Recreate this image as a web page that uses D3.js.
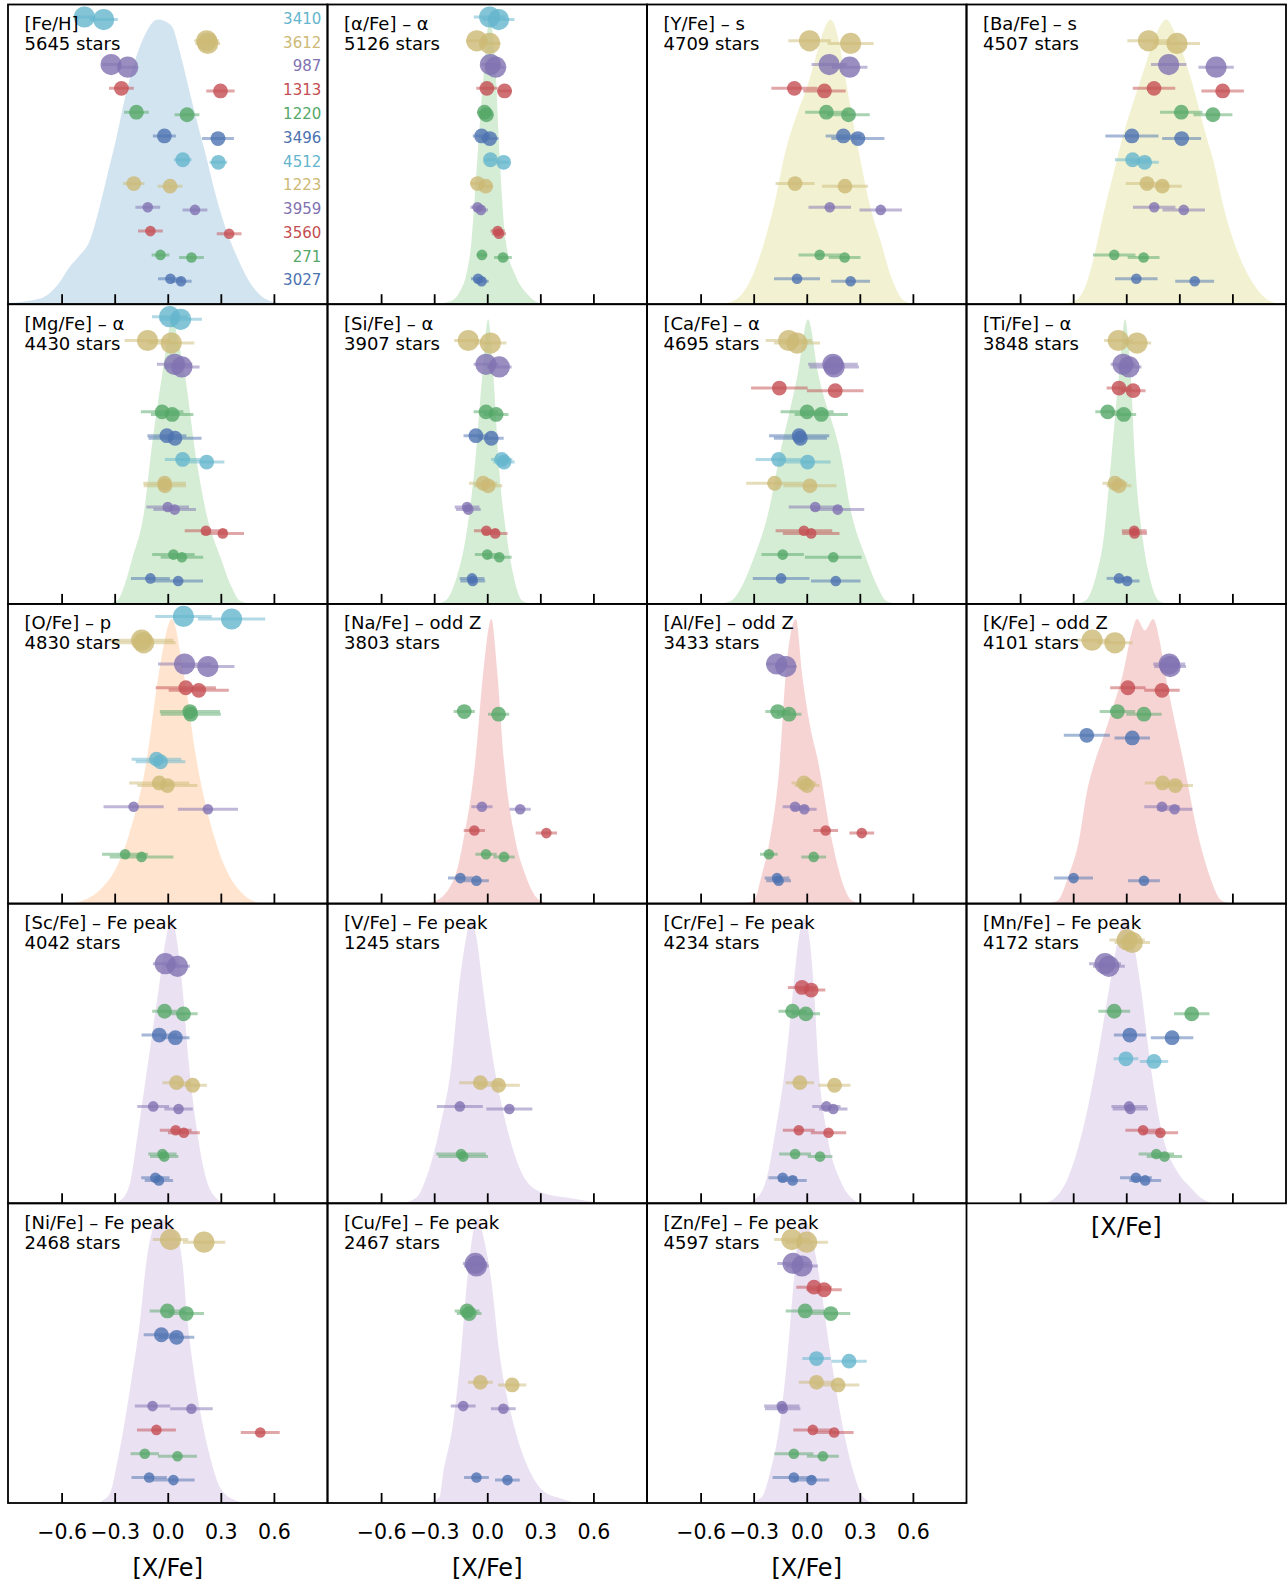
<!DOCTYPE html>
<html>
<head>
<meta charset="utf-8">
<script src="https://cdn.jsdelivr.net/npm/d3@7"></script>
<style>
  html, body { margin: 0; padding: 0; background: #fff; overflow: hidden; }
  svg { display: block; }
  text { font-family: "DejaVu Sans", sans-serif; }
</style>
</head>
<body>
<div id="chart"></div>
<script>
// cluster rows, top to bottom
var clusters = ["3410", "3612", "987", "1313", "1220", "3496", "4512", "1223", "3959", "3560", "271", "3027"];
var clusterColors = ["#64B5CD", "#CCB974", "#8172B2", "#C44E52", "#55A868", "#4C72B0",
                     "#64B5CD", "#CCB974", "#8172B2", "#C44E52", "#55A868", "#4C72B0"];

var titles = ["[Fe/H]", "[α/Fe] – α", "[Y/Fe] – s", "[Ba/Fe] – s",
              "[Mg/Fe] – α", "[Si/Fe] – α", "[Ca/Fe] – α", "[Ti/Fe] – α",
              "[O/Fe] – p", "[Na/Fe] – odd Z", "[Al/Fe] – odd Z", "[K/Fe] – odd Z",
              "[Sc/Fe] – Fe peak", "[V/Fe] – Fe peak", "[Cr/Fe] – Fe peak", "[Mn/Fe] – Fe peak",
              "[Ni/Fe] – Fe peak", "[Cu/Fe] – Fe peak", "[Zn/Fe] – Fe peak"];
var starCounts = [5645, 5126, 4709, 4507, 4430, 3907, 4695, 3848, 4830, 3803, 3433, 4101,
                  4042, 1245, 4234, 4172, 2468, 2467, 4597];
var groupFill = ["#1f77b4", "#2ca02c", "#bcbd22", "#bcbd22", "#2ca02c", "#2ca02c", "#2ca02c", "#2ca02c",
                 "#ff7f0e", "#d62728", "#d62728", "#d62728", "#9467bd", "#9467bd", "#9467bd", "#9467bd",
                 "#9467bd", "#9467bd", "#9467bd"];
var tickValues = [-0.6, -0.3, 0.0, 0.3, 0.6];

// sample density, [x, relative height] (peak = 1)
var densFeH = [[-0.91,0.004],[-0.72,0.02],[-0.62,0.07],[-0.556,0.13],[-0.5,0.17],[-0.443,0.22],[-0.386,0.34],[-0.339,0.46],[-0.292,0.58],[-0.254,0.69],[-0.207,0.81],[-0.141,0.93],[-0.057,1],[0.019,0.98],[0.075,0.87],[0.122,0.75],[0.17,0.63],[0.217,0.52],[0.264,0.4],[0.32,0.28],[0.396,0.16],[0.471,0.07],[0.584,0.01],[0.7,0]];
var densAlpha = [[-0.3,0],[-0.21,0.01],[-0.15,0.05],[-0.12,0.1],[-0.089,0.22],[-0.055,0.52],[-0.02,0.81],[0.014,1],[0.048,0.81],[0.07,0.52],[0.105,0.22],[0.16,0.1],[0.22,0.04],[0.29,0.005],[0.35,0]];
var densY = [[-0.5,0],[-0.42,0.01],[-0.35,0.05],[-0.3,0.11],[-0.23,0.24],[-0.173,0.38],[-0.127,0.52],[-0.06,0.66],[0,0.76],[0.043,0.85],[0.089,0.95],[0.134,1],[0.18,0.93],[0.214,0.81],[0.248,0.69],[0.305,0.5],[0.36,0.34],[0.418,0.22],[0.475,0.1],[0.555,0.01],[0.62,0]];
var densBa = [[-0.38,0],[-0.3,0.01],[-0.24,0.05],[-0.185,0.16],[-0.128,0.32],[-0.072,0.46],[-0.015,0.6],[0.04,0.71],[0.098,0.82],[0.17,0.95],[0.226,1],[0.29,0.93],[0.362,0.8],[0.457,0.58],[0.494,0.5],[0.551,0.34],[0.645,0.16],[0.72,0.07],[0.815,0.01],[0.88,0]];
var densMg = [[-0.36,0],[-0.29,0.01],[-0.2,0.16],[-0.13,0.34],[-0.1,0.5],[-0.03,0.81],[0.027,1],[0.06,0.92],[0.095,0.81],[0.164,0.5],[0.21,0.34],[0.3,0.16],[0.36,0.06],[0.41,0.01],[0.48,0]];
var densSi = [[-0.3,0],[-0.24,0.01],[-0.17,0.1],[-0.125,0.22],[-0.068,0.5],[-0.027,0.81],[0.005,1],[0.034,0.81],[0.064,0.5],[0.114,0.22],[0.148,0.1],[0.2,0.01],[0.26,0]];
var densCa = [[-0.5,0],[-0.43,0.01],[-0.36,0.07],[-0.3,0.16],[-0.21,0.34],[-0.16,0.5],[-0.05,0.81],[0.007,1],[0.064,0.81],[0.2,0.5],[0.245,0.34],[0.336,0.16],[0.4,0.06],[0.45,0.01],[0.52,0]];
var densTi = [[-0.3,0],[-0.234,0.01],[-0.17,0.1],[-0.13,0.22],[-0.086,0.5],[-0.04,0.81],[-0.007,1],[0.025,0.81],[0.05,0.5],[0.095,0.22],[0.13,0.1],[0.186,0.01],[0.24,0]];
var densO = [[-0.55,0],[-0.48,0.01],[-0.38,0.05],[-0.28,0.14],[-0.22,0.24],[-0.12,0.5],[-0.05,0.81],[0.023,1],[0.09,0.81],[0.164,0.5],[0.27,0.22],[0.33,0.12],[0.4,0.05],[0.5,0.005],[0.55,0]];
var densNa = [[-0.36,0],[-0.29,0.01],[-0.18,0.1],[-0.136,0.22],[-0.068,0.5],[-0.023,0.81],[0.023,1],[0.057,0.81],[0.095,0.5],[0.16,0.22],[0.216,0.1],[0.3,0.01],[0.36,0]];
var densAl = [[-0.38,0],[-0.3,0.01],[-0.255,0.1],[-0.21,0.22],[-0.152,0.5],[-0.118,0.81],[-0.061,1],[-0.027,0.81],[0.02,0.62],[0.064,0.5],[0.143,0.22],[0.189,0.1],[0.257,0.01],[0.32,0]];
var densK = [[-0.46,0],[-0.39,0.01],[-0.325,0.1],[-0.268,0.22],[-0.223,0.39],[-0.177,0.5],[-0.132,0.58],[-0.075,0.69],[-0.018,0.81],[0.03,0.95],[0.061,1],[0.105,0.96],[0.152,1],[0.19,0.92],[0.22,0.81],[0.323,0.5],[0.414,0.22],[0.47,0.1],[0.54,0.01],[0.6,0]];
var densSc = [[-0.3,0],[-0.25,0.02],[-0.21,0.08],[-0.166,0.26],[-0.11,0.5],[-0.052,0.75],[-0.01,0.93],[0.023,1],[0.05,0.93],[0.084,0.75],[0.118,0.5],[0.164,0.26],[0.22,0.08],[0.27,0.02],[0.32,0]];
var densV = [[-0.48,0],[-0.4,0.02],[-0.35,0.08],[-0.27,0.26],[-0.2,0.5],[-0.161,0.75],[-0.12,0.93],[-0.091,1],[-0.06,0.93],[-0.023,0.75],[0.034,0.5],[0.114,0.26],[0.2,0.1],[0.3,0.04],[0.45,0.02],[0.6,0.005],[0.66,0]];
var densCr = [[-0.34,0],[-0.28,0.02],[-0.23,0.08],[-0.175,0.26],[-0.118,0.5],[-0.077,0.75],[-0.045,0.93],[-0.016,1],[0.015,0.93],[0.041,0.75],[0.064,0.5],[0.11,0.26],[0.19,0.08],[0.25,0.02],[0.31,0]];
var densMn = [[-0.46,0],[-0.4,0.02],[-0.336,0.08],[-0.245,0.26],[-0.166,0.5],[-0.098,0.75],[-0.045,0.93],[-0.007,1],[0.035,0.93],[0.084,0.75],[0.134,0.5],[0.198,0.26],[0.3,0.1],[0.357,0.06],[0.42,0.02],[0.48,0]];
var densNi = [[-0.4,0],[-0.33,0.03],[-0.28,0.16],[-0.211,0.41],[-0.155,0.65],[-0.12,0.85],[-0.05,1],[0.03,0.97],[0.08,0.86],[0.11,0.65],[0.16,0.41],[0.24,0.16],[0.3,0.05],[0.38,0.01],[0.44,0]];
var densCu = [[-0.34,0],[-0.27,0.02],[-0.25,0.1],[-0.193,0.28],[-0.148,0.53],[-0.114,0.78],[-0.08,0.95],[-0.057,1],[-0.02,0.93],[0.023,0.78],[0.068,0.53],[0.148,0.28],[0.25,0.1],[0.32,0.04],[0.42,0.015],[0.5,0]];
var densZn = [[-0.33,0],[-0.255,0.02],[-0.21,0.1],[-0.152,0.28],[-0.107,0.53],[-0.073,0.78],[-0.045,0.95],[-0.016,1],[0.03,0.93],[0.075,0.78],[0.132,0.53],[0.2,0.28],[0.268,0.1],[0.32,0.02],[0.38,0]];

// per cluster row: [star 1, error 1, star 2, error 2], null = no measurement
var ptsFeH = [[-0.471,0.06,-0.362,0.08],[0.22,0.07,0.226,0.07],[-0.32,0.05,-0.226,0.05],[-0.262,0.07,0.298,0.08],[-0.177,0.07,0.109,0.07],[-0.019,0.065,0.284,0.09],[0.085,0.05,0.286,0.05],[-0.192,0.06,0.013,0.07],[-0.113,0.07,0.154,0.07],[-0.098,0.07,0.347,0.07],[-0.041,0.05,0.134,0.07],[0.015,0.07,0.075,0.06]];
var ptsAlpha = [[0.014,0.09,0.064,0.09],[-0.059,0.06,0.014,0.06],[0.018,0.05,0.048,0.05],[-0.002,0.06,0.098,0.04],[-0.016,0.04,-0.005,0.04],[-0.032,0.05,0.014,0.05],[0.018,0.03,0.093,0.03],[-0.055,0.04,-0.009,0.04],[-0.055,0.04,-0.036,0.04],[0.059,0.04,0.066,0.04],[-0.03,0.03,0.089,0.05],[-0.052,0.04,-0.032,0.04]];
var ptsY = [null,[0.016,0.12,0.248,0.13],[0.127,0.1,0.243,0.1],[-0.07,0.13,0.1,0.12],[0.111,0.12,0.236,0.12],[0.207,0.1,0.289,0.15],null,[-0.066,0.11,0.216,0.13],[0.13,0.12,0.418,0.12],null,[0.073,0.12,0.214,0.09],[-0.055,0.13,0.248,0.11]];
var ptsBa = [null,[0.126,0.12,0.287,0.13],[0.24,0.1,0.508,0.1],[0.157,0.12,0.545,0.12],[0.311,0.12,0.49,0.11],[0.032,0.15,0.313,0.11],[0.036,0.1,0.104,0.08],[0.117,0.12,0.204,0.11],[0.158,0.12,0.325,0.12],null,[-0.068,0.12,0.098,0.09],[0.057,0.12,0.387,0.11]];
var ptsMg = [[0.011,0.1,0.073,0.12],[-0.114,0.13,0.02,0.13],[0.039,0.1,0.08,0.1],null,[-0.032,0.12,0.025,0.12],[-0.005,0.11,0.041,0.15],[0.084,0.1,0.22,0.1],[-0.018,0.12,-0.016,0.12],[0,0.12,0.039,0.12],[0.216,0.12,0.311,0.12],[0.032,0.12,0.08,0.12],[-0.098,0.11,0.059,0.14]];
var ptsSi = [null,[-0.107,0.08,0.018,0.09],[-0.007,0.07,0.068,0.07],null,[-0.007,0.07,0.05,0.07],[-0.064,0.07,0.023,0.07],[0.082,0.06,0.095,0.06],[-0.023,0.08,0.005,0.08],[-0.114,0.07,-0.107,0.07],[-0.005,0.07,0.045,0.07],[0,0.07,0.068,0.07],[-0.086,0.07,-0.082,0.07]];
var ptsCa = [null,[-0.102,0.13,-0.055,0.13],[0.148,0.14,0.155,0.14],[-0.155,0.16,0.161,0.16],[0.002,0.15,0.082,0.15],[-0.043,0.17,-0.036,0.15],[-0.159,0.13,0.005,0.13],[-0.182,0.16,0.018,0.15],[0.048,0.15,0.175,0.15],[-0.016,0.16,0.025,0.16],[-0.136,0.12,0.15,0.16],[-0.145,0.16,0.164,0.14]];
var ptsTi = [null,[-0.045,0.08,0.061,0.08],[-0.018,0.07,0.016,0.07],[-0.041,0.07,0.039,0.07],[-0.105,0.07,-0.014,0.07],null,null,[-0.064,0.07,-0.041,0.07],null,[0.045,0.07,0.047,0.07],null,[-0.041,0.07,0.005,0.07]];
var ptsO = [[0.089,0.16,0.361,0.19],[-0.148,0.18,-0.136,0.18],[0.095,0.15,0.227,0.15],[0.102,0.17,0.175,0.17],[0.125,0.17,0.13,0.17],null,[-0.064,0.14,-0.041,0.14],[-0.048,0.17,-0.002,0.17],[-0.193,0.17,0.227,0.17],null,[-0.241,0.13,-0.148,0.18],null];
var ptsNa = [null,null,null,null,[-0.13,0.06,0.064,0.06],null,null,null,[-0.03,0.06,0.186,0.06],[-0.073,0.06,0.334,0.06],[-0.007,0.06,0.095,0.06],[-0.152,0.07,-0.061,0.07]];
var ptsAl = [null,null,[-0.17,0.06,-0.118,0.06],null,[-0.164,0.07,-0.1,0.07],null,null,[-0.016,0.07,0.002,0.07],[-0.066,0.07,-0.014,0.07],[0.107,0.07,0.311,0.07],[-0.214,0.05,0.039,0.07],[-0.168,0.07,-0.159,0.07]];
var ptsK = [null,[-0.193,0.1,-0.064,0.1],[0.243,0.09,0.248,0.09],[0.009,0.1,0.202,0.1],[-0.05,0.1,0.1,0.1],[-0.223,0.13,0.034,0.1],null,[0.205,0.1,0.277,0.1],[0.202,0.1,0.273,0.1],null,null,[-0.298,0.11,0.1,0.09]];
var ptsSc = [null,null,[-0.014,0.07,0.055,0.07],null,[-0.018,0.07,0.089,0.08],[-0.048,0.1,0.043,0.08],null,[0.05,0.08,0.141,0.08],[-0.082,0.09,0.061,0.08],[0.045,0.09,0.091,0.09],[-0.03,0.08,-0.02,0.08],[-0.07,0.08,-0.05,0.08]];
var ptsV = [null,null,null,null,null,null,null,[-0.039,0.12,0.064,0.12],[-0.155,0.13,0.125,0.13],null,[-0.148,0.14,-0.136,0.14],null];
var ptsCr = [null,null,null,[-0.027,0.08,0.025,0.08],[-0.08,0.08,-0.005,0.08],null,null,[-0.039,0.08,0.157,0.09],[0.111,0.08,0.15,0.08],[-0.045,0.09,0.123,0.1],[-0.066,0.09,0.075,0.07],[-0.136,0.08,-0.08,0.08]];
var ptsMn = [null,[0.005,0.1,0.034,0.1],[-0.12,0.09,-0.098,0.09],null,[-0.068,0.09,0.37,0.1],[0.02,0.09,0.259,0.12],[-0.002,0.07,0.157,0.08],null,[0.016,0.1,0.023,0.1],[0.095,0.1,0.193,0.1],[0.17,0.1,0.216,0.1],[0.055,0.09,0.107,0.09]];
var ptsNi = [null,[0.016,0.1,0.205,0.12],null,null,[-0.002,0.1,0.105,0.1],[-0.036,0.1,0.05,0.1],null,null,[-0.086,0.1,0.134,0.12],[-0.064,0.11,0.523,0.11],[-0.13,0.08,0.055,0.11],[-0.105,0.1,0.032,0.12]];
var ptsCu = [null,null,[-0.068,0.07,-0.061,0.07],null,[-0.114,0.07,-0.102,0.07],null,null,[-0.039,0.07,0.141,0.08],[-0.136,0.07,0.091,0.07],null,null,[-0.061,0.07,0.114,0.07]];
var ptsZn = [null,[-0.084,0.1,0,0.12],[-0.077,0.09,-0.027,0.09],[0.041,0.1,0.098,0.1],[-0.009,0.11,0.136,0.11],null,[0.055,0.08,0.239,0.1],[0.055,0.1,0.177,0.12],[-0.141,0.1,-0.136,0.1],[0.034,0.11,0.155,0.11],[-0.073,0.11,0.091,0.09],[-0.073,0.12,0.027,0.1]];

var densities = [densFeH, densAlpha, densY, densBa, densMg, densSi, densCa, densTi, densO, densNa, densAl, densK,
                 densSc, densV, densCr, densMn, densNi, densCu, densZn];
var points = [ptsFeH, ptsAlpha, ptsY, ptsBa, ptsMg, ptsSi, ptsCa, ptsTi, ptsO, ptsNa, ptsAl, ptsK,
              ptsSc, ptsV, ptsCr, ptsMn, ptsNi, ptsCu, ptsZn];

// layout
var width = 1287, height = 1585;
var gridLeft = 8, gridTop = 4.5;
var pw = 319.5, ph = 299.7;

var svg = d3.select("#chart").append("svg")
    .attr("width", width)
    .attr("height", height);
svg.append("rect").attr("width", width).attr("height", height).attr("fill", "#fff");

var xScale = d3.scaleLinear().domain([-0.903, 0.903]).range([0, pw]);
var yScale = d3.scaleLinear().domain([0, 11]).range([13.8, 13.8 + 23.79 * 11]);
var hScale = d3.scaleLinear().domain([0, 1]).range([ph, 15]);

var area = d3.area()
    .x(function (d) { return xScale(d[0]); })
    .y0(ph)
    .y1(function (d) { return hScale(d[1]); })
    .curve(d3.curveMonotoneX);

function radius(i) {
    if (i < 3) return 10.6;
    if (i < 8) return 7.4;
    return 5.3;
}

var nPanels = titles.length;
titles.forEach(function (title, k) {
    var col = k % 4, row = Math.floor(k / 4);
    var g = svg.append("g")
        .attr("transform", `translate(${gridLeft + col * pw}, ${gridTop + row * ph})`);

    g.append("clipPath").attr("id", "clip" + k)
        .append("rect").attr("width", pw).attr("height", ph);
    var inner = g.append("g").attr("clip-path", `url(#clip${k})`);

    inner.append("path")
        .datum(densities[k])
        .attr("d", area)
        .attr("fill", groupFill[k])
        .attr("fill-opacity", 0.2);

    // flatten rows into individual stars
    var stars = [];
    points[k].forEach(function (r, i) {
        if (!r) return;
        stars.push({ row: i, v: r[0], e: r[1], dy: -1.3 });
        stars.push({ row: i, v: r[2], e: r[3], dy: 1.3 });
    });

    inner.selectAll("line.err")
        .data(stars)
        .enter().append("line")
        .attr("class", "err")
        .attr("x1", function (d) { return xScale(d.v - d.e); })
        .attr("x2", function (d) { return xScale(d.v + d.e); })
        .attr("y1", function (d) { return yScale(d.row) + d.dy; })
        .attr("y2", function (d) { return yScale(d.row) + d.dy; })
        .attr("stroke", function (d) { return clusterColors[d.row]; })
        .attr("stroke-width", 3)
        .attr("stroke-opacity", 0.5);

    inner.selectAll("circle")
        .data(stars)
        .enter().append("circle")
        .attr("cx", function (d) { return xScale(d.v); })
        .attr("cy", function (d) { return yScale(d.row) + d.dy; })
        .attr("r", function (d) { return radius(d.row); })
        .attr("fill", function (d) { return clusterColors[d.row]; })
        .attr("fill-opacity", 0.8);

    // title
    g.append("text").attr("x", 16.5).attr("y", 25.5)
        .style("font-size", "18px").text(title);
    g.append("text").attr("x", 16.5).attr("y", 45.5)
        .style("font-size", "18px").text(starCounts[k] + " stars");

    // cluster labels in the first panel
    if (k === 0) {
        g.selectAll("text.cl")
            .data(clusters)
            .enter().append("text")
            .attr("class", "cl")
            .attr("x", pw - 6.2)
            .attr("y", function (d, i) { return yScale(i) + 5.5; })
            .attr("text-anchor", "end")
            .attr("fill", function (d, i) { return clusterColors[i]; })
            .style("font-size", "15px")
            .text(function (d) { return d; });
    }

    // bottom axis, ticks pointing inward
    var isBottom = k + 4 >= nPanels;
    var showLabels = k >= 16;
    var axis = d3.axisBottom(xScale)
        .tickValues(tickValues)
        .tickSizeInner(-10)
        .tickSizeOuter(0)
        .tickPadding(21.5)
        .tickFormat(showLabels ? d3.format(".1f") : "");
    var ax = g.append("g")
        .attr("transform", `translate(0, ${ph})`)
        .call(axis);
    ax.select(".domain").remove();
    ax.selectAll(".tick line").attr("stroke", "#000").attr("stroke-width", 1.8);
    ax.selectAll(".tick text")
        .attr("fill", "#000")
        .style("font-family", "DejaVu Sans")
        .style("font-size", "20.5px");

    if (isBottom) {
        g.append("text")
            .attr("x", pw / 2)
            .attr("y", showLabels ? ph + 73 : ph + 32)
            .attr("text-anchor", "middle")
            .style("font-size", "24px")
            .text("[X/Fe]");
    }

    // frame
    g.append("rect")
        .attr("width", pw).attr("height", ph)
        .attr("fill", "none")
        .attr("stroke", "#000")
        .attr("stroke-width", 1.8);
});
</script>
</body>
</html>
